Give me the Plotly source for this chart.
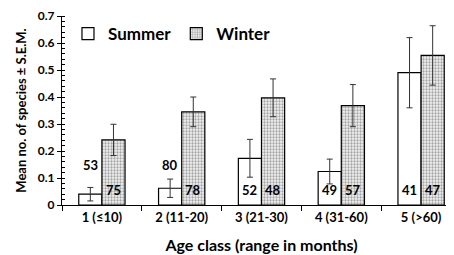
import plotly.graph_objects as go

categories = ["1 (≤10)", "2 (11-20)", "3 (21-30)", "4 (31-60)", "5 (>60)"]
summer_mean = [0.040, 0.062, 0.173, 0.124, 0.490]
summer_sem = [0.025, 0.034, 0.070, 0.046, 0.130]
winter_mean = [0.241, 0.345, 0.397, 0.368, 0.554]
winter_sem = [0.058, 0.055, 0.070, 0.078, 0.110]
summer_n = [53, 80, 52, 49, 41]
winter_n = [75, 78, 48, 57, 47]
y_ticks = [0, 0.1, 0.2, 0.3, 0.4, 0.5, 0.6, 0.7]
y_ticklabels = ["0", "0.1", "0.2", "0.3", "0.4", "0.5", "0.6", "0.7"]

FONT = "Lato"
fig = go.Figure()
fig.add_trace(go.Bar(
    name="Summer", x=categories, y=summer_mean,
    marker=dict(color="white", line=dict(color="black", width=1.2)),
    error_y=dict(type="data", array=summer_sem, color="#333", thickness=1, width=3),
))
fig.add_trace(go.Bar(
    name="Winter", x=categories, y=winter_mean,
    marker=dict(color="white", line=dict(color="black", width=1.2),
                pattern=dict(shape=".", size=3, solidity=0.45, fgcolor="#555", bgcolor="#f2f2f2")),
    error_y=dict(type="data", array=winter_sem, color="#333", thickness=1, width=3),
))

half = 0.145
for i, n in enumerate(summer_n):
    ys = 0.150 if i < 2 else 0.056
    fig.add_annotation(x=i - half, y=ys, text=str(n), showarrow=False,
                       font=dict(family=FONT, size=13, color="black", weight="bold"),
                       xref="x", yref="y")
for i, n in enumerate(winter_n):
    fig.add_annotation(x=i + half, y=0.056, text=str(n), showarrow=False,
                       font=dict(family=FONT, size=13, color="black", weight="bold"),
                       xref="x", yref="y")

fig.update_layout(
    width=454, height=255,
    margin=dict(l=54, r=1, t=8, b=58),
    plot_bgcolor="white", paper_bgcolor="white",
    barmode="group", bargap=0.42, bargroupgap=0,
    font=dict(family=FONT, color="black"),
    legend=dict(orientation="h", x=0.015, y=1.0, xanchor="left", yanchor="top",
                font=dict(family=FONT, size=17, color="black", weight="bold"),
                itemwidth=30, bgcolor="rgba(0,0,0,0)", traceorder="normal"),
    xaxis=dict(showline=True, linecolor="black", linewidth=1.2,
               ticks="outside", tickson="boundaries", ticklen=5, tickcolor="black",
               tickfont=dict(family=FONT, size=13, weight="bold"),
               title=dict(text="Age class (range in months)",
                          font=dict(family=FONT, size=16, weight="bold"), standoff=16)),
    yaxis=dict(range=[0, 0.7], tickvals=y_ticks, ticktext=y_ticklabels,
               showline=True, linecolor="black", linewidth=1.2,
               ticks="outside", ticklen=4, tickcolor="black", showgrid=False,
               zeroline=False,
               tickfont=dict(family=FONT, size=12, weight="bold"),
               minor=dict(dtick=0.02, ticks="inside", ticklen=3, tickcolor="black", showgrid=False),
               title=dict(text="Mean no. of species ± S.E.M.",
                          font=dict(family=FONT, size=13, weight="bold"), standoff=8)),
)
fig.write_html("out.html")
